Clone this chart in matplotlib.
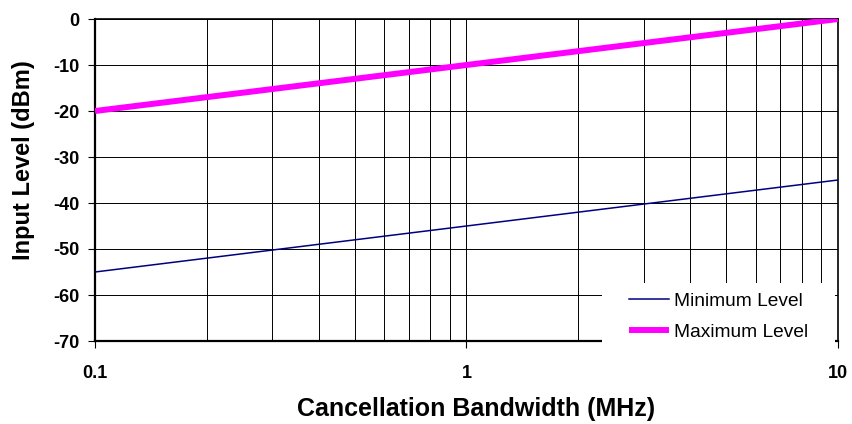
import numpy as np
import matplotlib.pyplot as plt
from matplotlib.patches import Rectangle
from matplotlib.ticker import LogLocator, FixedLocator, NullFormatter

plt.rcParams['font.family'] = ['Liberation Sans', 'DejaVu Sans']
plt.rcParams['axes.unicode_minus'] = False

# data
bandwidth = [0.1, 10]
min_level = [-55, -35]
max_level = [-20, 0]

x_ticks = [0.1, 1, 10]
x_tick_labels = ["0.1", "1", "10"]
y_ticks = [0, -10, -20, -30, -40, -50, -60, -70]

fig = plt.figure(figsize=(8.53, 4.24), dpi=100)
ax = fig.add_axes([95 / 853, 1 - 341 / 424, 743 / 853, 322 / 424])

ax.plot(bandwidth, min_level, color="#000080", lw=1.1, label="Minimum Level", zorder=3)
ax.plot(bandwidth, max_level, color="#FF00FF", lw=4.3, label="Maximum Level",
        solid_capstyle="butt", zorder=3)

ax.set_xscale("log")
ax.set_xlim(0.1, 10)
ax.set_ylim(-70, 0)

ax.xaxis.set_major_locator(FixedLocator(x_ticks))
ax.set_xticklabels(x_tick_labels)
ax.xaxis.set_minor_locator(LogLocator(base=10, subs=np.arange(2, 10)))
ax.xaxis.set_minor_formatter(NullFormatter())
ax.set_yticks(y_ticks)

ax.grid(True, which="both", axis="x", color="black", lw=0.7)
ax.grid(True, which="major", axis="y", color="black", lw=0.7)
ax.set_axisbelow(True)

ax.tick_params(axis="both", which="major", direction="out", length=5, width=0.8,
               labelsize=13)
ax.tick_params(axis="y", which="major", pad=6.5)
ax.tick_params(axis="x", which="major", pad=12)
ax.tick_params(axis="x", which="minor", length=0)
for lab in ax.get_xticklabels() + ax.get_yticklabels():
    lab.set_fontweight("bold")

for side in ["left", "bottom"]:
    ax.spines[side].set_linewidth(1.6)
for side in ["right", "top"]:
    ax.spines[side].set_linewidth(1.2)

ax.set_xlabel("Cancellation Bandwidth (MHz)", fontsize=18, fontweight="bold")
ax.set_ylabel("Input Level (dBm)", fontsize=17, fontweight="bold")
ax.xaxis.label.set_va("center")
ax.yaxis.label.set_va("center")
ax.xaxis.set_label_coords(0.513, -0.211)
ax.yaxis.set_label_coords(-0.0956, 0.5606)

# white box behind the legend, hiding the grid like the original
ax.add_patch(Rectangle((0.682, -0.012), 0.314, 0.192, transform=ax.transAxes,
                       facecolor="white", edgecolor="none", clip_on=False, zorder=4))

leg = ax.legend(loc="upper left", bbox_to_anchor=(0.719, 0.150), frameon=False,
                fontsize=13.8, handlelength=2.08, handletextpad=0.26, borderpad=0,
                labelspacing=0.71, borderaxespad=0)
leg.set_zorder(10)

fig.savefig("out.png", dpi=100)
